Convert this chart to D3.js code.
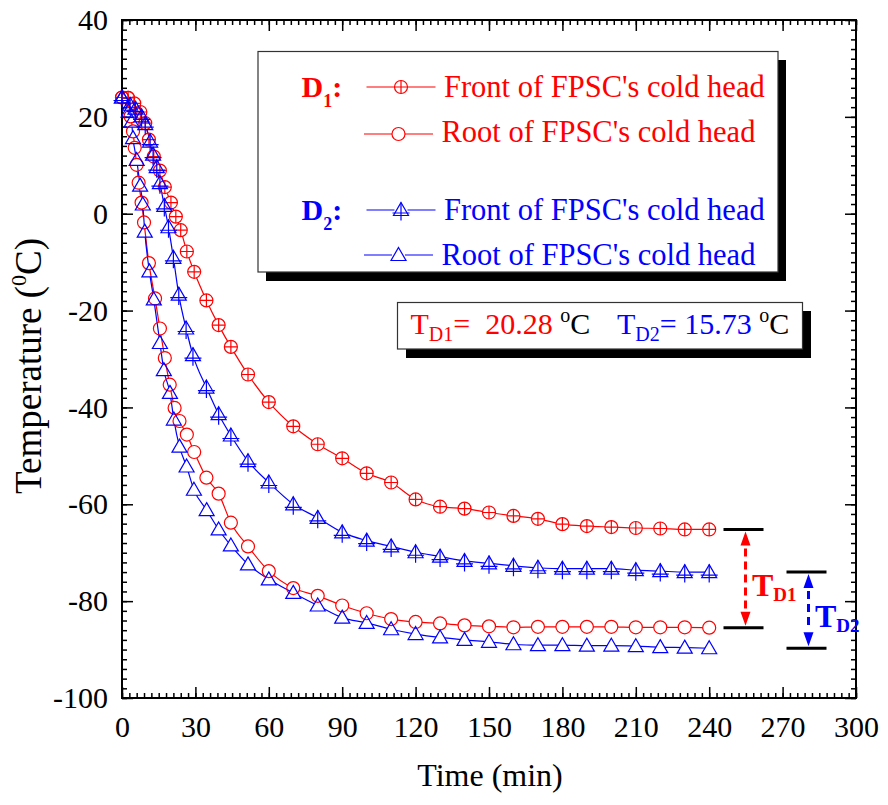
<!DOCTYPE html>
<html>
<head>
<meta charset="utf-8">
<script src="https://cdn.jsdelivr.net/npm/d3@7"></script>
<style>
  body { margin: 0; background: #fff; }
  svg { display: block; }
  text { white-space: pre; }
</style>
</head>
<body>
<svg id="chart" width="888" height="805"></svg>
<script>
// ---- Data: cooling curves of the FPSC cold head (time in min, temperature in °C) ----
const d1FrontTime = [0, 2.5, 5, 7.5, 9.5, 11, 13, 15.5, 17.5, 20, 22, 24, 26.5, 29.5, 34.5, 39.5, 44.5, 51.5, 60, 70,
  80, 90, 100, 110, 120, 130, 140, 150, 160, 170, 180, 190, 200, 210, 220, 230, 240];
const d1FrontTemp = [24.0, 23.9, 22.8, 21.0, 18.7, 15.3, 11.8, 8.9, 5.5, 2.3, -0.6, -3.4, -7.8, -12.0, -17.9, -23.0, -27.5, -33.2, -38.9, -43.9,
  -47.6, -50.5, -53.6, -55.5, -59.0, -60.5, -60.9, -61.7, -62.4, -63.0, -64.1, -64.5, -64.7, -64.9, -65.0, -65.2, -65.2];

const d1RootTime = [0, 2.5, 3.5, 4.5, 5.2, 6.0, 6.8, 8, 9, 11, 13.5, 15.5, 17.5, 19.5, 21.5, 23.5, 26.5, 29.5, 34.5, 39.5, 44.5, 51.5, 60, 70,
  80, 90, 100, 110, 120, 130, 140, 150, 160, 170, 180, 190, 200, 210, 220, 230, 240];
const d1RootTemp = [24.0, 23.9, 20.1, 17.0, 13.6, 10.1, 6.4, 2.3, -1.8, -10.2, -17.5, -23.7, -29.8, -35.3, -40.1, -42.8, -45.6, -49.2, -54.5, -57.8, -63.8, -68.7, -73.8, -77.3,
  -78.9, -80.9, -82.5, -83.7, -84.3, -84.6, -85.0, -85.2, -85.4, -85.3, -85.3, -85.3, -85.3, -85.4, -85.4, -85.4, -85.48];

const d2FrontTime = [0, 3.3, 5.5, 8, 9.5, 11.5, 12.7, 14.2, 15.5, 17.3, 19, 21, 23.2, 26.2, 29, 34.5, 39.5, 44.5, 51.5, 60, 70,
  80, 90, 100, 110, 120, 130, 140, 150, 160, 170, 180, 190, 200, 210, 220, 230, 240];
const d2FrontTemp = [24.0, 22.5, 21.7, 20.1, 18.5, 14.9, 12.2, 9.6, 6.3, 1.6, -2.8, -9.1, -16.7, -23.7, -29.2, -35.9, -41.4, -45.8, -51.1, -55.5, -60.0,
  -62.8, -65.8, -67.5, -68.7, -69.9, -70.8, -71.7, -72.2, -72.7, -73.1, -73.3, -73.3, -73.3, -73.6, -73.8, -74.0, -74.0];

const d2RootTime = [0, 2.7, 3.9, 4.5, 6, 7.4, 8.5, 9.3, 11.2, 13, 15.5, 17.1, 19.6, 21.2, 23.5, 26.4, 29.4, 34.6, 39.5, 44.5, 51.5, 60, 70,
  80, 90, 100, 110, 120, 130, 140, 150, 160, 170, 180, 190, 200, 210, 220, 230, 240];
const d2RootTemp = [24.0, 21.1, 19.0, 15.6, 11.1, 5.8, 1.9, -3.7, -11.9, -17.7, -26.7, -32.3, -37.0, -42.5, -48.1, -52.2, -57.0, -61.2, -65.2, -68.5, -72.4, -75.5, -78.3,
  -80.9, -83.4, -84.5, -85.8, -86.8, -87.5, -88.0, -88.4, -88.9, -89.1, -89.1, -89.2, -89.2, -89.3, -89.5, -89.6, -89.73];

// Temperature differences between front and root at the end of the run
const tdLabels = ["D1", "D2"];
const tdValues = [20.28, 15.73];

// Axis ticks
const xMajorTicks = [0, 30, 60, 90, 120, 150, 180, 210, 240, 270, 300];
const xMinorTicks = d3.range(0, 301, 3);
const yMajorTicks = [-100, -80, -60, -40, -20, 0, 20, 40];
const yMinorTicks = d3.range(-100, 41, 2);

const legendLabels = ["Front of FPSC's cold head", "Root of FPSC's cold head",
                      "Front of FPSC's cold head", "Root of FPSC's cold head"];

// ---- Setup ----
const FONT = '"Liberation Serif", "Times New Roman", Times, serif';
const RED = "#ff0000", BLUE = "#0000ff";
const svg = d3.select("#chart");
const x = d3.scaleLinear().domain([0, 300]).range([122, 856]);
const y = d3.scaleLinear().domain([-100, 40]).range([698, 20]);

const zip = (ts, vs) => ts.map((t, i) => ({ t, v: vs[i] }));
const series = [
  { id: "d1f", color: RED,  marker: "circlePlus", data: zip(d1FrontTime, d1FrontTemp) },
  { id: "d1r", color: RED,  marker: "circle",     data: zip(d1RootTime,  d1RootTemp) },
  { id: "d2f", color: BLUE, marker: "triPlus",    data: zip(d2FrontTime, d2FrontTemp) },
  { id: "d2r", color: BLUE, marker: "tri",        data: zip(d2RootTime,  d2RootTemp) }
];

// Marker geometry
const R = 6.5;
const triPath = "M0,-7.5L7.5,5.5L-7.5,5.5Z";
function drawMarker(g, kind, color) {
  if (kind === "circle" || kind === "circlePlus") {
    g.append("circle").attr("r", R).attr("fill", "none").attr("stroke", color).attr("stroke-width", 1.2);
    if (kind === "circlePlus")
      g.append("path").attr("d", `M${-R},0H${R}M0,${-R}V${R}`).attr("stroke", color).attr("stroke-width", 1.2);
  } else {
    g.append("path").attr("d", triPath).attr("fill", "none").attr("stroke", color).attr("stroke-width", 1.2);
    if (kind === "triPlus")
      g.append("path").attr("d", "M0,-7.5V10.5M-8.5,3H8.5").attr("stroke", color).attr("stroke-width", 1.2);
  }
}
function markerMask(g, kind) {
  if (kind === "circle" || kind === "circlePlus") g.append("circle").attr("r", R).attr("fill", "#000");
  else g.append("path").attr("d", triPath).attr("fill", "#000");
}

// ---- Axes (ticks point inward on all four sides) ----
function styleAxis(g) {
  g.select(".domain").remove();
  g.selectAll(".tick line").attr("stroke", "#000").attr("stroke-width", 1.5);
  g.selectAll(".tick text").attr("font-family", FONT).attr("font-size", 30).attr("fill", "#000");
}
const fmt = d => String(d);
svg.append("g").attr("transform", "translate(0,698)")
  .call(d3.axisBottom(x).tickValues(xMinorTicks).tickSize(-5).tickFormat("")).call(styleAxis);
svg.append("g").attr("transform", "translate(0,698)")
  .call(d3.axisBottom(x).tickValues(xMajorTicks).tickSize(-11).tickPadding(18).tickFormat(fmt)).call(styleAxis);
svg.append("g").attr("transform", "translate(0,20)")
  .call(d3.axisTop(x).tickValues(xMinorTicks).tickSize(-5).tickFormat("")).call(styleAxis);
svg.append("g").attr("transform", "translate(0,20)")
  .call(d3.axisTop(x).tickValues(xMajorTicks).tickSize(-11).tickFormat("")).call(styleAxis);
svg.append("g").attr("transform", "translate(122,0)")
  .call(d3.axisLeft(y).tickValues(yMinorTicks).tickSize(-5).tickFormat("")).call(styleAxis);
svg.append("g").attr("transform", "translate(122,0)")
  .call(d3.axisLeft(y).tickValues(yMajorTicks).tickSize(-11).tickPadding(14).tickFormat(fmt)).call(styleAxis);
svg.append("g").attr("transform", "translate(856,0)")
  .call(d3.axisRight(y).tickValues(yMinorTicks).tickSize(-5).tickFormat("")).call(styleAxis);
svg.append("g").attr("transform", "translate(856,0)")
  .call(d3.axisRight(y).tickValues(yMajorTicks).tickSize(-11).tickFormat("")).call(styleAxis);

svg.append("rect").attr("x", 122).attr("y", 20).attr("width", 734).attr("height", 678)
  .attr("fill", "none").attr("stroke", "#000").attr("stroke-width", 2);

// Axis titles
svg.append("text").attr("x", 490).attr("y", 786).attr("text-anchor", "middle")
  .attr("font-family", FONT).attr("font-size", 32).text("Time (min)");
const yt = svg.append("text").attr("transform", "translate(41,366) rotate(-90)").attr("text-anchor", "middle")
  .attr("font-family", FONT).attr("font-size", 37);
yt.append("tspan").text("Temperature (");
yt.append("tspan").attr("font-size", 22).attr("dy", -15).text("0");
yt.append("tspan").attr("dy", 15).text("C)");

// ---- Curves with gaps under the hollow markers ----
const defs = svg.append("defs");
const line = d3.line().x(d => x(d.t)).y(d => y(d.v)).curve(d3.curveMonotoneX);
series.forEach(s => {
  const m = defs.append("mask").attr("id", "mask-" + s.id).attr("maskUnits", "userSpaceOnUse")
    .attr("x", 0).attr("y", 0).attr("width", 888).attr("height", 805);
  m.append("rect").attr("width", 888).attr("height", 805).attr("fill", "#fff");
  s.data.forEach(d => markerMask(m.append("g").attr("transform", `translate(${x(d.t)},${y(d.v)})`), s.marker));
});
series.forEach(s => {
  svg.append("path").datum(s.data).attr("d", line).attr("fill", "none")
    .attr("stroke", s.color).attr("stroke-width", 1.2).attr("mask", `url(#mask-${s.id})`);
});
series.forEach(s => {
  const g = svg.append("g");
  s.data.forEach(d => drawMarker(g.append("g").attr("transform", `translate(${x(d.t)},${y(d.v)})`), s.marker, s.color));
});

// ---- Legend box ----
svg.append("rect").attr("x", 266).attr("y", 60).attr("width", 520).attr("height", 221).attr("fill", "#000");
svg.append("rect").attr("x", 258).attr("y", 51.5).attr("width", 520).attr("height", 220.5)
  .attr("fill", "#fff").attr("stroke", "#333").attr("stroke-width", 1.2);

function groupLabel(yb, color, sub) {
  const t = svg.append("text").attr("x", 301.5).attr("y", yb).attr("font-family", FONT)
    .attr("font-weight", "bold").attr("font-size", 30).attr("fill", color);
  t.append("tspan").text("D");
  t.append("tspan").attr("font-size", 18).attr("dy", 10).text(sub);
  t.append("tspan").attr("dy", -10).text(":");
}
groupLabel(97, RED, "1");
groupLabel(220, BLUE, "2");

const legendRows = [
  { s: series[0], ly: 87,  tx: 444, ty: 97 },
  { s: series[1], ly: 134, tx: 441.5, ty: 141.5 },
  { s: series[2], ly: 210, tx: 444, ty: 220 },
  { s: series[3], ly: 255, tx: 441.5, ty: 265 }
];
legendRows.forEach((r, i) => {
  const x0 = i % 2 === 0 ? 366.5 : 364, x1 = i % 2 === 0 ? 435.5 : 433;
  const cx = (x0 + x1) / 2;
  svg.append("path").attr("d", `M${x0},${r.ly}H${cx - R}M${cx + R},${r.ly}H${x1}`)
    .attr("stroke", r.s.color).attr("stroke-width", 1.2);
  drawMarker(svg.append("g").attr("transform", `translate(${cx},${r.ly})`), r.s.marker, r.s.color);
  svg.append("text").attr("x", r.tx).attr("y", r.ty).attr("font-family", FONT).attr("font-size", 30.5)
    .attr("fill", r.s.color).text(legendLabels[i]);
});

// ---- Temperature-difference box ----
svg.append("rect").attr("x", 406).attr("y", 311).attr("width", 405).attr("height", 47).attr("fill", "#000");
svg.append("rect").attr("x", 397.5).attr("y", 302.5).attr("width", 405).attr("height", 46.5)
  .attr("fill", "#fff").attr("stroke", "#333").attr("stroke-width", 1.2);
function tdText(x0, color, label, value, gap) {
  const t = svg.append("text").attr("x", x0).attr("y", 334).attr("font-family", FONT).attr("font-size", 30);
  t.append("tspan").attr("fill", color).text("T");
  t.append("tspan").attr("fill", color).attr("font-size", 20).attr("dy", 7).text(label);
  t.append("tspan").attr("fill", color).attr("dy", -7).text("=" + gap + value.toFixed(2) + " ");
  t.append("tspan").attr("fill", "#000").attr("font-size", 20).attr("dy", -12).text("o");
  t.append("tspan").attr("fill", "#000").attr("dy", 12).text("C");
}
tdText(410.5, RED, tdLabels[0], tdValues[0], "  ");
tdText(617, BLUE, tdLabels[1], tdValues[1], " ");

// ---- Brackets marking the final front/root difference ----
function bracket(xc, frontEnd, td, color, label, labelX) {
  const yTop = y(frontEnd), yBot = y(frontEnd - td);
  svg.append("path").attr("d", `M${xc - 22},${yTop}H${xc + 18}M${xc - 22},${yBot}H${xc + 18}`)
    .attr("stroke", "#000").attr("stroke-width", 3);
  const ah = 16, aw = 5;
  svg.append("path").attr("d", `M${xc},${yTop + 2}L${xc + aw},${yTop + ah}L${xc - aw},${yTop + ah}Z` +
    `M${xc},${yBot - 2}L${xc + aw},${yBot - ah}L${xc - aw},${yBot - ah}Z`).attr("fill", color);
  svg.append("line").attr("x1", xc).attr("x2", xc).attr("y1", yTop + ah + 3).attr("y2", yBot - ah - 3)
    .attr("stroke", color).attr("stroke-width", 3).attr("stroke-dasharray", "8,5");
  const t = svg.append("text").attr("x", labelX).attr("y", (yTop + yBot) / 2 + 17)
    .attr("font-family", FONT).attr("font-weight", "bold").attr("font-size", 32).attr("fill", color);
  t.append("tspan").text("T");
  t.append("tspan").attr("font-size", 19).attr("dy", 5).text(label);
}
bracket(745.5, d1FrontTemp[d1FrontTemp.length - 1], tdValues[0], RED, tdLabels[0], 752);
bracket(808.5, d2FrontTemp[d2FrontTemp.length - 1], tdValues[1], BLUE, tdLabels[1], 815);
</script>
</body>
</html>
